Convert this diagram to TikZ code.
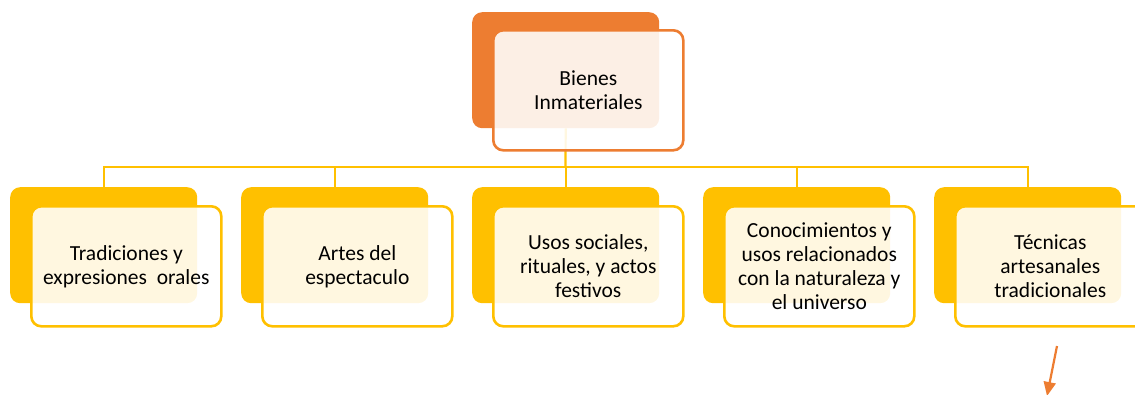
\documentclass[tikz,border=0pt]{standalone}
\usepackage{fontspec}
\setmainfont{Carlito}
\usetikzlibrary{positioning,arrows.meta}
\definecolor{orangetop}{RGB}{237,125,49}
\definecolor{yellowbox}{RGB}{255,192,0}

\begin{document}
\begin{tikzpicture}[x=1pt, y=-1pt,
  back/.style={rectangle, rounded corners=10pt, minimum width=187pt, minimum height=116pt, inner sep=0pt, anchor=north west},
  front/.style={rectangle, draw, rounded corners=10pt, line width=2.6pt, fill=white, fill opacity=0.88, text opacity=1, minimum width=190pt, minimum height=120pt, inner sep=0pt, align=center, anchor=north west, font=\fontsize{21.5}{24}\selectfont},
  conn/.style={yellowbox, line width=2.2pt},
  arrow/.style={-{Triangle[length=14pt, width=12pt]}, orangetop, line width=2.2pt}
]
\useasboundingbox (0,0) rectangle (1135,394);

% Connectors (behind the boxes)
\node[back] (topb) at (472,12) {};
\coordinate (hub) at (565.5,167);
\node[back] (cb1) at (10,187) {};
\node[back] (cb2) at (241,187) {};
\node[back] (cb3) at (472,187) {};
\node[back] (cb4) at (703,187) {};
\node[back] (cb5) at (934,187) {};
\draw[conn] (topb.south) -- (hub);
\draw[conn] (hub) -| (cb1.north);
\draw[conn] (hub) -| (cb2.north);
\draw[conn] (hub) -| (cb3.north);
\draw[conn] (hub) -| (cb4.north);
\draw[conn] (hub) -| (cb5.north);

% Top
\node[back, fill=orangetop] at (472,12) {};
\node[front, draw=orangetop] (top) at (492,29) {Bienes\\Inmateriales};

% Row of children
\node[back, fill=yellowbox] at (10,187) {};
\node[front, draw=yellowbox] (tradiciones) at (30,205) {Tradiciones y\\expresiones\ \ orales};
\node[back, fill=yellowbox] at (241,187) {};
\node[front, draw=yellowbox] (artes) at (261,205) {Artes del\\espectaculo};
\node[back, fill=yellowbox] at (472,187) {};
\node[front, draw=yellowbox] (usos) at (492,205) {Usos sociales,\\rituales, y actos\\festivos};
\node[back, fill=yellowbox] at (703,187) {};
\node[front, draw=yellowbox] (conocimientos) at (723,205) {Conocimientos y\\usos relacionados\\con la naturaleza y\\el universo};
\node[back, fill=yellowbox] at (934,187) {};
\node[front, draw=yellowbox] (tecnicas) at (954,205) {Técnicas\\artesanales\\tradicionales};

% Loose arrow
\coordinate (arrfrom) at (1057,346);
\coordinate (arrto) at (1047,396);
\draw[arrow] (arrfrom) -- (arrto);

\end{tikzpicture}
\end{document}
